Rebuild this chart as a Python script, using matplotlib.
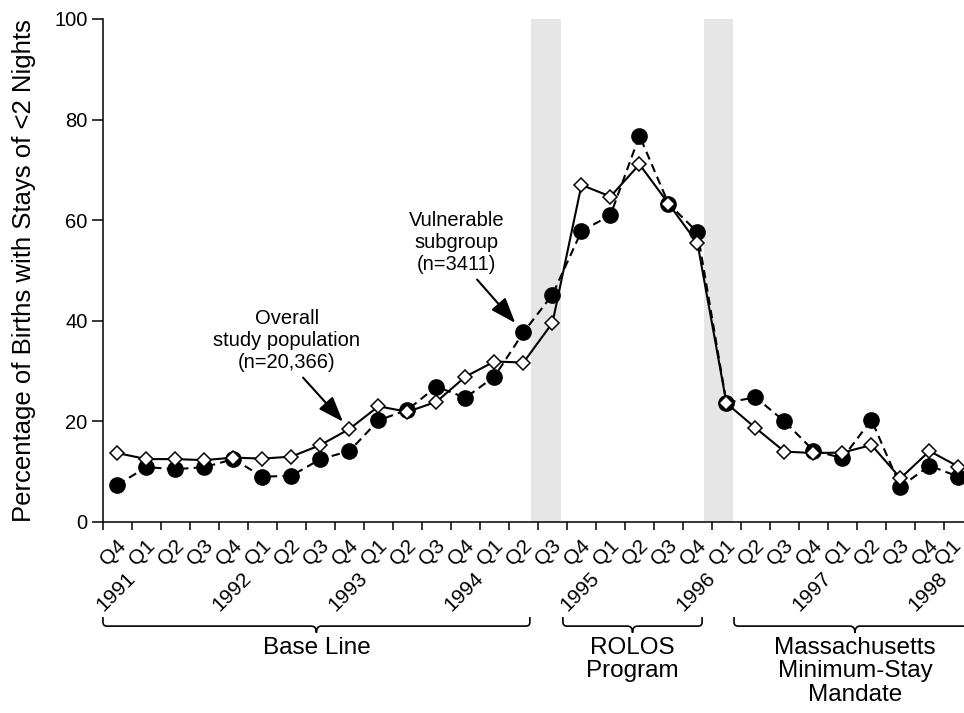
import numpy as np
import matplotlib.pyplot as plt
from matplotlib.path import Path
from matplotlib.patches import PathPatch

plt.rcParams['font.family'] = ['Liberation Sans', 'DejaVu Sans']

# quarter slots, 1991 Q4 .. 1998 Q1
quarters = ['Q4',
            'Q1', 'Q2', 'Q3', 'Q4',
            'Q1', 'Q2', 'Q3', 'Q4',
            'Q1', 'Q2', 'Q3', 'Q4',
            'Q1', 'Q2', 'Q3', 'Q4',
            'Q1', 'Q2', 'Q3', 'Q4',
            'Q1', 'Q2', 'Q3', 'Q4',
            'Q1', 'Q2', 'Q3', 'Q4',
            'Q1']
years = ['1991', '1992', '1993', '1994', '1995', '1996', '1997', '1998']

# percentage of births with stays of <2 nights
overall = [13.7, 12.5, 12.5, 12.3, 12.8, 12.6, 13.0, 15.3, 18.5, 23.0,
           21.9, 23.9, 28.9, 31.9, 31.7, 39.6, 67.0, 64.7, 71.1, 63.3,
           55.4, 23.6, 18.7, 14.0, 13.7, 13.8, 15.3, 8.7, 14.1, 11.0]
vulnerable = [7.4, 10.9, 10.5, 10.9, 12.5, 9.0, 9.2, 12.5, 14.1, 20.2,
              22.3, 26.9, 24.7, 28.9, 37.7, 45.2, 57.8, 61.0, 76.8, 63.3,
              57.6, 23.7, 24.8, 20.0, 14.2, 12.7, 20.3, 7.0, 11.2, 9.0]

phases = ['Base Line', 'ROLOS\nProgram', 'Massachusetts\nMinimum-Stay\nMandate']
phase_spans = [(0.0, 14.72), (15.86, 20.66), (21.76, 30.1)]
gap_spans = [(14.76, 15.8), (20.72, 21.72)]

x = np.arange(len(quarters)) + 0.5

fig = plt.figure(figsize=(9.64, 7.13), dpi=100)
ax = fig.add_axes([0.1068, 0.2679, 0.8932, 0.7055])

for a, b in gap_spans:
    ax.axvspan(a, b, color='#e6e6e6', lw=0, zorder=0)

ax.plot(x, vulnerable, color='black', lw=1.5, ls=(0, (4, 2.5)), marker='o', ms=11,
        mfc='black', mec='black', zorder=3, clip_on=False)
ax.plot(x, overall, color='black', lw=1.5, marker='D', ms=7.5, mfc='white',
        mec='black', mew=1.1, zorder=4, clip_on=False)

ax.set_xlim(0, 29.69)
ax.set_ylim(0, 100)
for s in ['top', 'right']:
    ax.spines[s].set_visible(False)
for s in ['left', 'bottom']:
    ax.spines[s].set_linewidth(1.1)
ax.set_xticks(np.arange(0, len(quarters)))
ax.set_xticklabels([])
ax.set_yticks([0, 20, 40, 60, 80, 100])
ax.tick_params(axis='x', direction='out', length=5.5, width=1.1)
ax.tick_params(axis='y', direction='out', length=8, width=1.1, labelsize=14.5, pad=3)

# quarter and year labels under the axis
for i, (xi, q) in enumerate(zip(x, quarters)):
    dx = 12 if i < len(quarters) - 1 else 6
    ax.annotate(q, xy=(xi, 0), xycoords=('data', 'axes fraction'), xytext=(dx, -14),
                textcoords='offset pixels', rotation=45, ha='right', va='top', fontsize=15)
q1_idx = [i for i, q in enumerate(quarters) if q == 'Q1']
for i, yr in zip(q1_idx, years):
    ax.annotate(yr, xy=(i, 0), xycoords=('data', 'axes fraction'), xytext=(7, -47),
                textcoords='offset pixels', rotation=45, ha='right', va='top', fontsize=15)

# braces for study phases
tr = ax.get_xaxis_transform()
y_top, y_line, y_tip = -0.189, -0.207, -0.220
rx, ry, nx = 0.14, 0.008, 0.17
for (x0, x1), label in zip(phase_spans, phases):
    xc = (x0 + x1) / 2
    verts = [(x0, y_top), (x0, y_line + ry), (x0, y_line), (x0 + rx, y_line),
             (xc - nx, y_line), (xc, y_line), (xc, y_tip),
             (xc, y_line), (xc + nx, y_line),
             (x1 - rx, y_line), (x1, y_line), (x1, y_line + ry), (x1, y_top)]
    codes = [Path.MOVETO, Path.LINETO, Path.CURVE3, Path.CURVE3,
             Path.LINETO, Path.CURVE3, Path.CURVE3,
             Path.CURVE3, Path.CURVE3,
             Path.LINETO, Path.CURVE3, Path.CURVE3, Path.LINETO]
    ax.add_patch(PathPatch(Path(verts, codes), transform=tr, fill=False,
                           lw=1.2, color='black', clip_on=False))
    ax.text(xc, -0.228, label, transform=tr, ha='center', va='top', fontsize=17.5,
            linespacing=1.1)

ax.text(-0.092, 0.5, 'Percentage of Births with Stays of <2 Nights', transform=ax.transAxes,
        rotation=90, ha='center', va='center', fontsize=18.5)

# callouts
ax.text(6.34, 42.4, 'Overall\nstudy population\n(n=20,366)', ha='center', va='top', fontsize=14.5)
ax.annotate('', xy=(x[8], overall[8]), xytext=(6.9, 28.7),
            arrowprops=dict(arrowstyle='-|>,head_length=0.6,head_width=0.22', color='black',
                            lw=1.5, shrinkA=0, shrinkB=7, mutation_scale=26))
ax.text(12.2, 61.8, 'Vulnerable\nsubgroup\n(n=3411)', ha='center', va='top', fontsize=14.5)
ax.annotate('', xy=(x[14], vulnerable[14]), xytext=(12.9, 48.2),
            arrowprops=dict(arrowstyle='-|>,head_length=0.6,head_width=0.22', color='black',
                            lw=1.5, shrinkA=0, shrinkB=9, mutation_scale=26))

fig.savefig('out.png', dpi=100)
